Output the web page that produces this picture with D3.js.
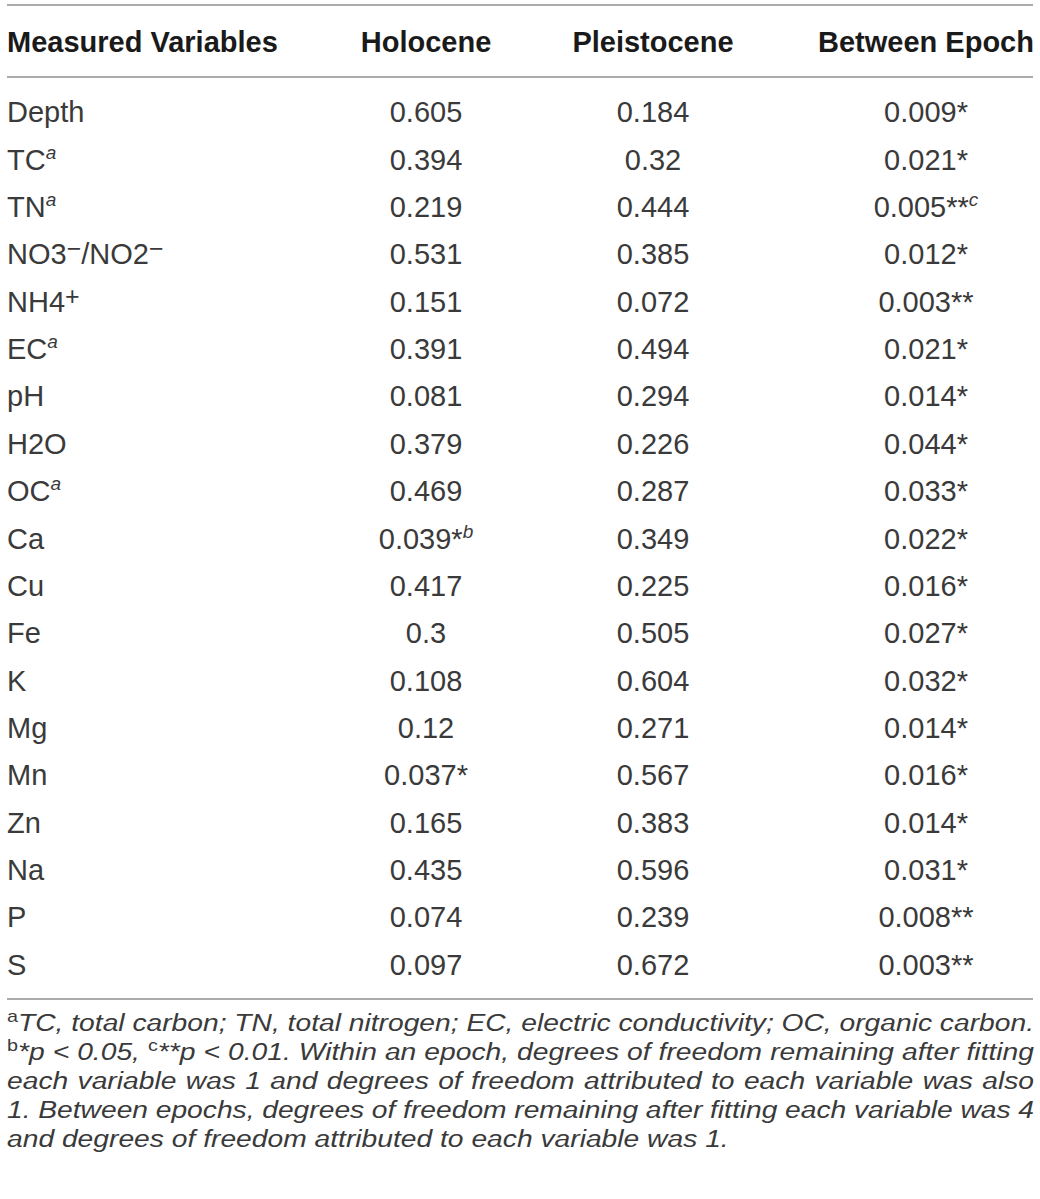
<!DOCTYPE html>
<html><head><meta charset="utf-8">
<script src="https://cdn.jsdelivr.net/npm/d3@7/dist/d3.min.js"></script>
<style>html,body{margin:0;padding:0;background:#fff}svg{display:block}</style>
</head><body><svg id="c" width="1040" height="1199"></svg>
<script>
// ---- data ----
const headers = ["Measured Variables", "Holocene", "Pleistocene", "Between Epoch"];
const variables = ["Depth", "TC^{a}", "TN^{a}", "NO3^[−]/NO2^[−]", "NH4^[+]", "EC^{a}", "pH", "H2O", "OC^{a}",
  "Ca", "Cu", "Fe", "K", "Mg", "Mn", "Zn", "Na", "P", "S"];
const holocene = [0.605, 0.394, 0.219, 0.531, 0.151, 0.391, 0.081, 0.379, 0.469, 0.039, 0.417, 0.3, 0.108, 0.12, 0.037, 0.165, 0.435, 0.074, 0.097];
const holoceneMarks = ["", "", "", "", "", "", "", "", "", "*^{b}", "", "", "", "", "*", "", "", "", ""];
const pleistocene = [0.184, 0.32, 0.444, 0.385, 0.072, 0.494, 0.294, 0.226, 0.287, 0.349, 0.225, 0.505, 0.604, 0.271, 0.567, 0.383, 0.596, 0.239, 0.672];
const pleistoceneMarks = ["", "", "", "", "", "", "", "", "", "", "", "", "", "", "", "", "", "", ""];
const between = [0.009, 0.021, 0.005, 0.012, 0.003, 0.021, 0.014, 0.044, 0.033, 0.022, 0.016, 0.027, 0.032, 0.014, 0.016, 0.014, 0.031, 0.008, 0.003];
const betweenMarks = ["*", "*", "**^{c}", "*", "**", "*", "*", "*", "*", "*", "*", "*", "*", "*", "*", "*", "*", "**", "**"];
const footnotes = [
  "^[a]TC, total carbon; TN, total nitrogen; EC, electric conductivity; OC, organic carbon.",
  "^[b]*p < 0.05, ^[c]**p < 0.01. Within an epoch, degrees of freedom remaining after fitting",
  "each variable was 1 and degrees of freedom attributed to each variable was also",
  "1. Between epochs, degrees of freedom remaining after fitting each variable was 4",
  "and degrees of freedom attributed to each variable was 1."
];
const footJustify = [true, true, true, true, false];

// ---- layout ----
const left = 7, right = 1033;
const FONT = "'Liberation Sans', Arial, Helvetica, sans-serif";
const svg = d3.select("#c");
const colX = d3.scaleOrdinal().domain(headers).range([left, 426, 653, 926]);
const colAnchor = d3.scaleOrdinal().domain(headers).range(["start", "middle", "middle", "middle"]);
const y = d3.scaleBand().domain(d3.range(variables.length)).range([88.3, 987.7]);

// rich text: ^{x} italic superscript, ^[x] upright superscript
function rich(textSel, str, sup) {
  const parts = str.split(/(\^\{[^}]*\}|\^\[[^\]]*\])/).filter(s => s.length);
  let back = 0;
  parts.forEach(p => {
    const m = p.match(/^\^([\{\[])(.*)[\}\]]$/);
    const t = textSel.append("tspan");
    if (m) {
      const st = m[1] === "{" ? sup.it : sup.up;
      t.attr("font-size", st.size).attr("dy", -st.raise + back)
       .attr("font-style", m[1] === "{" ? "italic" : "normal").text(m[2]);
      back = st.raise;
    } else {
      t.attr("dy", back).text(p);
      back = 0;
    }
  });
}

const rule = (yy) => svg.append("line").attr("x1", left).attr("x2", right)
  .attr("y1", yy).attr("y2", yy).attr("stroke", "#ababab").attr("stroke-width", 2);
rule(5); rule(77); rule(999);

// header
svg.selectAll("text.hdr").data(headers).join("text").attr("class", "hdr")
  .attr("x", d => colX(d)).attr("y", 52).attr("text-anchor", d => colAnchor(d))
  .attr("font-family", FONT).attr("font-weight", "bold").attr("font-size", 29)
  .attr("fill", "#1a1a1a").text(d => d);

// body
const cols = [
  { h: headers[0], vals: variables, marks: null },
  { h: headers[1], vals: holocene, marks: holoceneMarks },
  { h: headers[2], vals: pleistocene, marks: pleistoceneMarks },
  { h: headers[3], vals: between, marks: betweenMarks }
];
const tableSup = { it: { size: 19, raise: 11 }, up: { size: 25, raise: 7 } };
cols.forEach(c => {
  c.vals.forEach((v, i) => {
    const t = svg.append("text")
      .attr("x", colX(c.h)).attr("y", y(i) + y.bandwidth() / 2 + 10.5)
      .attr("text-anchor", colAnchor(c.h))
      .attr("font-family", FONT).attr("font-size", 29).attr("fill", "#3a3a3a");
    const s = c.marks ? String(v) + c.marks[i] : v;
    rich(t, s, tableSup);
  });
});

// footnotes (source face is wider than Liberation: stretch horizontally to match)
const fs = 24.5;
const footSup = { it: { size: fs * 0.7, raise: fs * 0.35 }, up: { size: fs * 0.7, raise: fs * 0.35 } };
const footG = footnotes.map((f, i) => {
  const g = svg.append("g");
  const t = g.append("text").attr("x", 0).attr("y", 0)
    .attr("font-family", FONT).attr("font-style", "italic").attr("font-size", fs).attr("fill", "#3a3a3a");
  rich(t, f, footSup);
  return { g, t, f, i };
});
const sx = (729 - left) / footG[4].t.node().getComputedTextLength();
footG.forEach(({ g, t, f, i }) => {
  g.attr("transform", `translate(${left},${1031 + i * 29}) scale(${sx},1)`);
  if (footJustify[i]) {
    const w = t.node().getComputedTextLength();
    const plain = f.replace(/\^\{[^}]*\}|\^\[[^\]]*\]/g, "");
    const n = (plain.match(/ /g) || []).length;
    t.attr("word-spacing", ((right + 1 - left) / sx - w) / n);
  }
});
</script></body></html>
